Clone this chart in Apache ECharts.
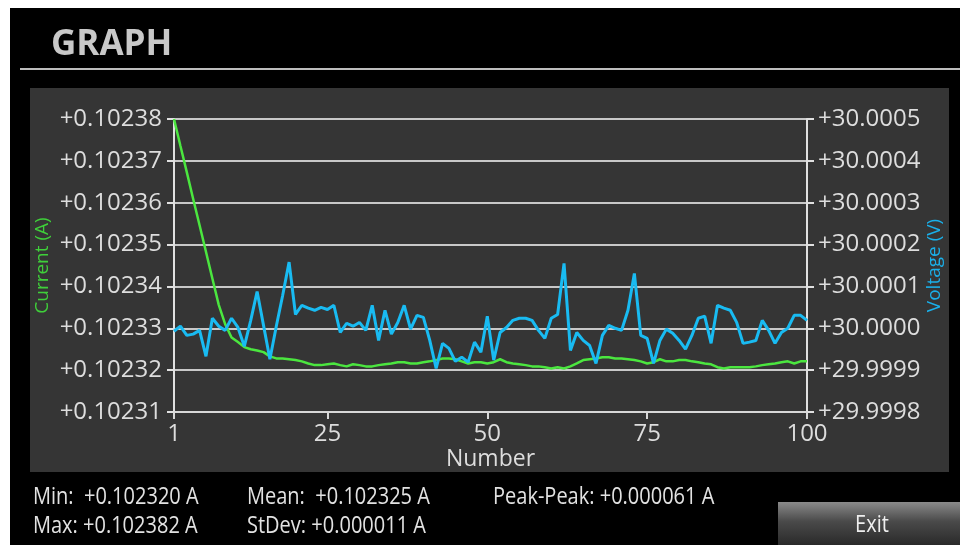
<!DOCTYPE html>
<html>
<head>
<meta charset="utf-8">
<title>GRAPH</title>
<script src="https://cdn.jsdelivr.net/npm/echarts@6/dist/echarts.min.js"></script>
<style>
  html, body { margin: 0; padding: 0; background: #fff; }
  #chart { width: 960px; height: 545px; }
</style>
</head>
<body>
<div id="chart"></div>
<script>
// readings 1..100
const currentA = [
  0.102380, 0.1023736, 0.1023673, 0.1023609, 0.1023546, 0.1023483, 0.1023419, 0.1023356, 0.1023310, 0.1023278,
  0.1023267, 0.1023255, 0.1023250, 0.1023247, 0.1023243, 0.1023233, 0.1023228, 0.1023228, 0.1023226, 0.1023224,
  0.1023221, 0.1023216, 0.1023212, 0.1023212, 0.1023214, 0.1023216, 0.1023212, 0.1023209, 0.1023214, 0.1023212,
  0.1023209, 0.1023209, 0.1023212, 0.1023214, 0.1023216, 0.1023219, 0.1023219, 0.1023216, 0.1023216, 0.1023219,
  0.1023221, 0.1023224, 0.1023228, 0.1023228, 0.1023226, 0.1023221, 0.1023216, 0.1023219, 0.1023219, 0.1023216,
  0.1023219, 0.1023226, 0.1023219, 0.1023216, 0.1023214, 0.1023212, 0.1023209, 0.1023209, 0.1023207, 0.1023204,
  0.1023207, 0.1023204, 0.1023209, 0.1023216, 0.1023224, 0.1023226, 0.1023228, 0.1023231, 0.1023231, 0.1023228,
  0.1023228, 0.1023226, 0.1023224, 0.1023221, 0.1023216, 0.1023219, 0.1023226, 0.1023221, 0.1023221, 0.1023224,
  0.1023224, 0.1023221, 0.1023219, 0.1023216, 0.1023214, 0.1023207, 0.1023204, 0.1023207, 0.1023207, 0.1023207,
  0.1023207, 0.1023209, 0.1023212, 0.1023214, 0.1023216, 0.1023219, 0.1023221, 0.1023216, 0.1023221, 0.1023221
];

const voltageV = [
  29.999993, 30.000005, 29.999983, 29.999986, 29.999995, 29.999933, 30.000024, 30.000005, 29.999995, 30.000024,
  30.000002, 29.999957, 30.000019, 30.000088, 30.000007, 29.999926, 30.000005, 30.000079, 30.000158, 30.000033,
  30.000055, 30.000048, 30.000043, 30.000050, 30.000045, 30.000055, 29.999990, 30.000012, 30.000005, 30.000014,
  29.999995, 30.000055, 29.999971, 30.000043, 29.999986, 30.000014, 30.000055, 29.999998, 30.000031, 30.000026,
  29.999971, 29.999904, 29.999964, 29.999952, 29.999921, 29.999931, 29.999919, 29.999967, 29.999943, 30.000029,
  29.999924, 29.999990, 30.000002, 30.000019, 30.000024, 30.000024, 30.000019, 29.999995, 29.999976, 30.000024,
  30.000033, 30.000155, 29.999947, 29.999990, 29.999971, 29.999959, 29.999916, 29.999983, 30.000007, 30.000000,
  29.999995, 30.000043, 30.000131, 29.999983, 29.999976, 29.999916, 29.999971, 29.999998, 29.999988, 29.999971,
  29.999950, 29.999983, 30.000024, 30.000029, 29.999964, 30.000055, 30.000048, 30.000043, 30.000014, 29.999964,
  29.999967, 29.999971, 30.000019, 29.999995, 29.999964, 29.999990, 30.000000, 30.000031, 30.000031, 30.000019
];

const xTicks = [1, 25, 50, 75, 100];
const currentTicks = [0.10231, 0.10232, 0.10233, 0.10234, 0.10235, 0.10236, 0.10237, 0.10238];
const voltageTicks = [29.9998, 29.9999, 30.0000, 30.0001, 30.0002, 30.0003, 30.0004, 30.0005];

const statsRow1 = ["Min:  +0.102320 A", "Mean:  +0.102325 A", "Peak-Peak: +0.000061 A"];
const statsRow2 = ["Max: +0.102382 A", "StDev: +0.000011 A"];
const statsX = [33, 247, 493];

const FONT = '"Open Sans", "Noto Sans", sans-serif';
const GREEN = "#4be63f";
const BLUE = "#19bbf2";

const chart = echarts.init(document.getElementById("chart"));

const statText = (txt, x, y) => ({
  type: "text",
  x: x,
  y: y,
  scaleX: 0.87,
  z: 5,
  style: {
    text: txt,
    font: "23px " + FONT,
    fill: "#e2e2e2",
    verticalAlign: "middle"
  }
});

const option = {
  backgroundColor: "#fff",
  animation: false,
  graphic: [
    { type: "rect", z: -20, shape: { x: 10, y: 8, width: 950, height: 537 }, style: { fill: "#000" } },
    { type: "rect", z: -19, shape: { x: 30, y: 88, width: 919, height: 384 }, style: { fill: "#353535" } },
    { type: "line", z: -19, shape: { x1: 20, y1: 69, x2: 960, y2: 69 }, style: { stroke: "#bdbdbd", lineWidth: 2 } },
    {
      type: "text", x: 51, y: 45, z: 5,
      style: { text: "GRAPH", font: "bold 35px " + FONT, fill: "#c8c8c8", verticalAlign: "middle" }
    },
    statText(statsRow1[0], statsX[0], 497),
    statText(statsRow1[1], statsX[1], 497),
    statText(statsRow1[2], statsX[2], 497),
    statText(statsRow2[0], statsX[0], 526),
    statText(statsRow2[1], statsX[1], 526),
    {
      type: "rect", z: -18,
      shape: { x: 778, y: 502, width: 182, height: 43 },
      style: {
        fill: new echarts.graphic.LinearGradient(0, 0, 0, 1, [
          { offset: 0, color: "#8a8a8a" },
          { offset: 0.45, color: "#4a4a4a" },
          { offset: 1, color: "#2a2a2a" }
        ])
      }
    },
    {
      type: "text", x: 872, y: 525, z: 5, scaleX: 0.87,
      style: { text: "Exit", font: "23px " + FONT, fill: "#eeeeee", align: "center", verticalAlign: "middle" }
    }
  ],
  grid: { left: 174, top: 119, width: 633, height: 293, containLabel: false },
  xAxis: {
    type: "value",
    min: xTicks[0],
    max: xTicks[xTicks.length - 1],
    name: "Number",
    nameLocation: "middle",
    nameGap: 36,
    nameMoveOverlap: false,
    nameTextStyle: { color: "#dddddd", fontFamily: FONT, fontSize: 23 },
    axisLine: { show: true, lineStyle: { color: "#d8d8d8", width: 2 } },
    axisTick: { show: true, length: 7, customValues: xTicks, lineStyle: { color: "#d8d8d8", width: 2 } },
    axisLabel: { customValues: xTicks, color: "#dddddd", fontFamily: FONT, fontSize: 24, margin: 10 },
    splitLine: { show: false }
  },
  yAxis: [
    {
      type: "value",
      position: "left",
      min: currentTicks[0],
      max: currentTicks[currentTicks.length - 1],
      interval: 0.00001,
      name: "Current (A)",
      nameLocation: "middle",
      nameRotate: 90,
      nameGap: 122,
      nameMoveOverlap: false,
      nameTextStyle: { color: "#3fcf3a", fontFamily: FONT, fontSize: 19 },
      axisLine: { show: true, lineStyle: { color: "#e0e0e0", width: 2 } },
      axisTick: { show: true, length: 7, lineStyle: { color: "#e0e0e0", width: 2 } },
      axisLabel: {
        color: "#dddddd", fontFamily: FONT, fontSize: 24, margin: 12,
        formatter: (v) => "+" + v.toFixed(5)
      },
      splitLine: { show: true, lineStyle: { color: "#c8c8c8", width: 2 } }
    },
    {
      type: "value",
      position: "right",
      min: voltageTicks[0],
      max: voltageTicks[voltageTicks.length - 1],
      interval: 0.0001,
      name: "Voltage (V)",
      nameLocation: "middle",
      nameRotate: 90,
      nameGap: 118,
      nameMoveOverlap: false,
      nameTextStyle: { color: "#1ab0ea", fontFamily: FONT, fontSize: 19 },
      axisLine: { show: true, lineStyle: { color: "#e0e0e0", width: 2 } },
      axisTick: { show: true, length: 7, lineStyle: { color: "#e0e0e0", width: 2 } },
      axisLabel: {
        color: "#dddddd", fontFamily: FONT, fontSize: 24, margin: 11,
        formatter: (v) => "+" + v.toFixed(4)
      },
      splitLine: { show: false }
    }
  ],
  series: [
    {
      name: "Current",
      type: "line",
      yAxisIndex: 0,
      showSymbol: false,
      data: currentA.map((v, i) => [i + 1, v]),
      lineStyle: { color: GREEN, width: 2.5 },
      itemStyle: { color: GREEN }
    },
    {
      name: "Voltage",
      type: "line",
      yAxisIndex: 1,
      showSymbol: false,
      data: voltageV.map((v, i) => [i + 1, v]),
      lineStyle: { color: BLUE, width: 3 },
      itemStyle: { color: BLUE }
    }
  ]
};

chart.setOption(option);
</script>
</body>
</html>
